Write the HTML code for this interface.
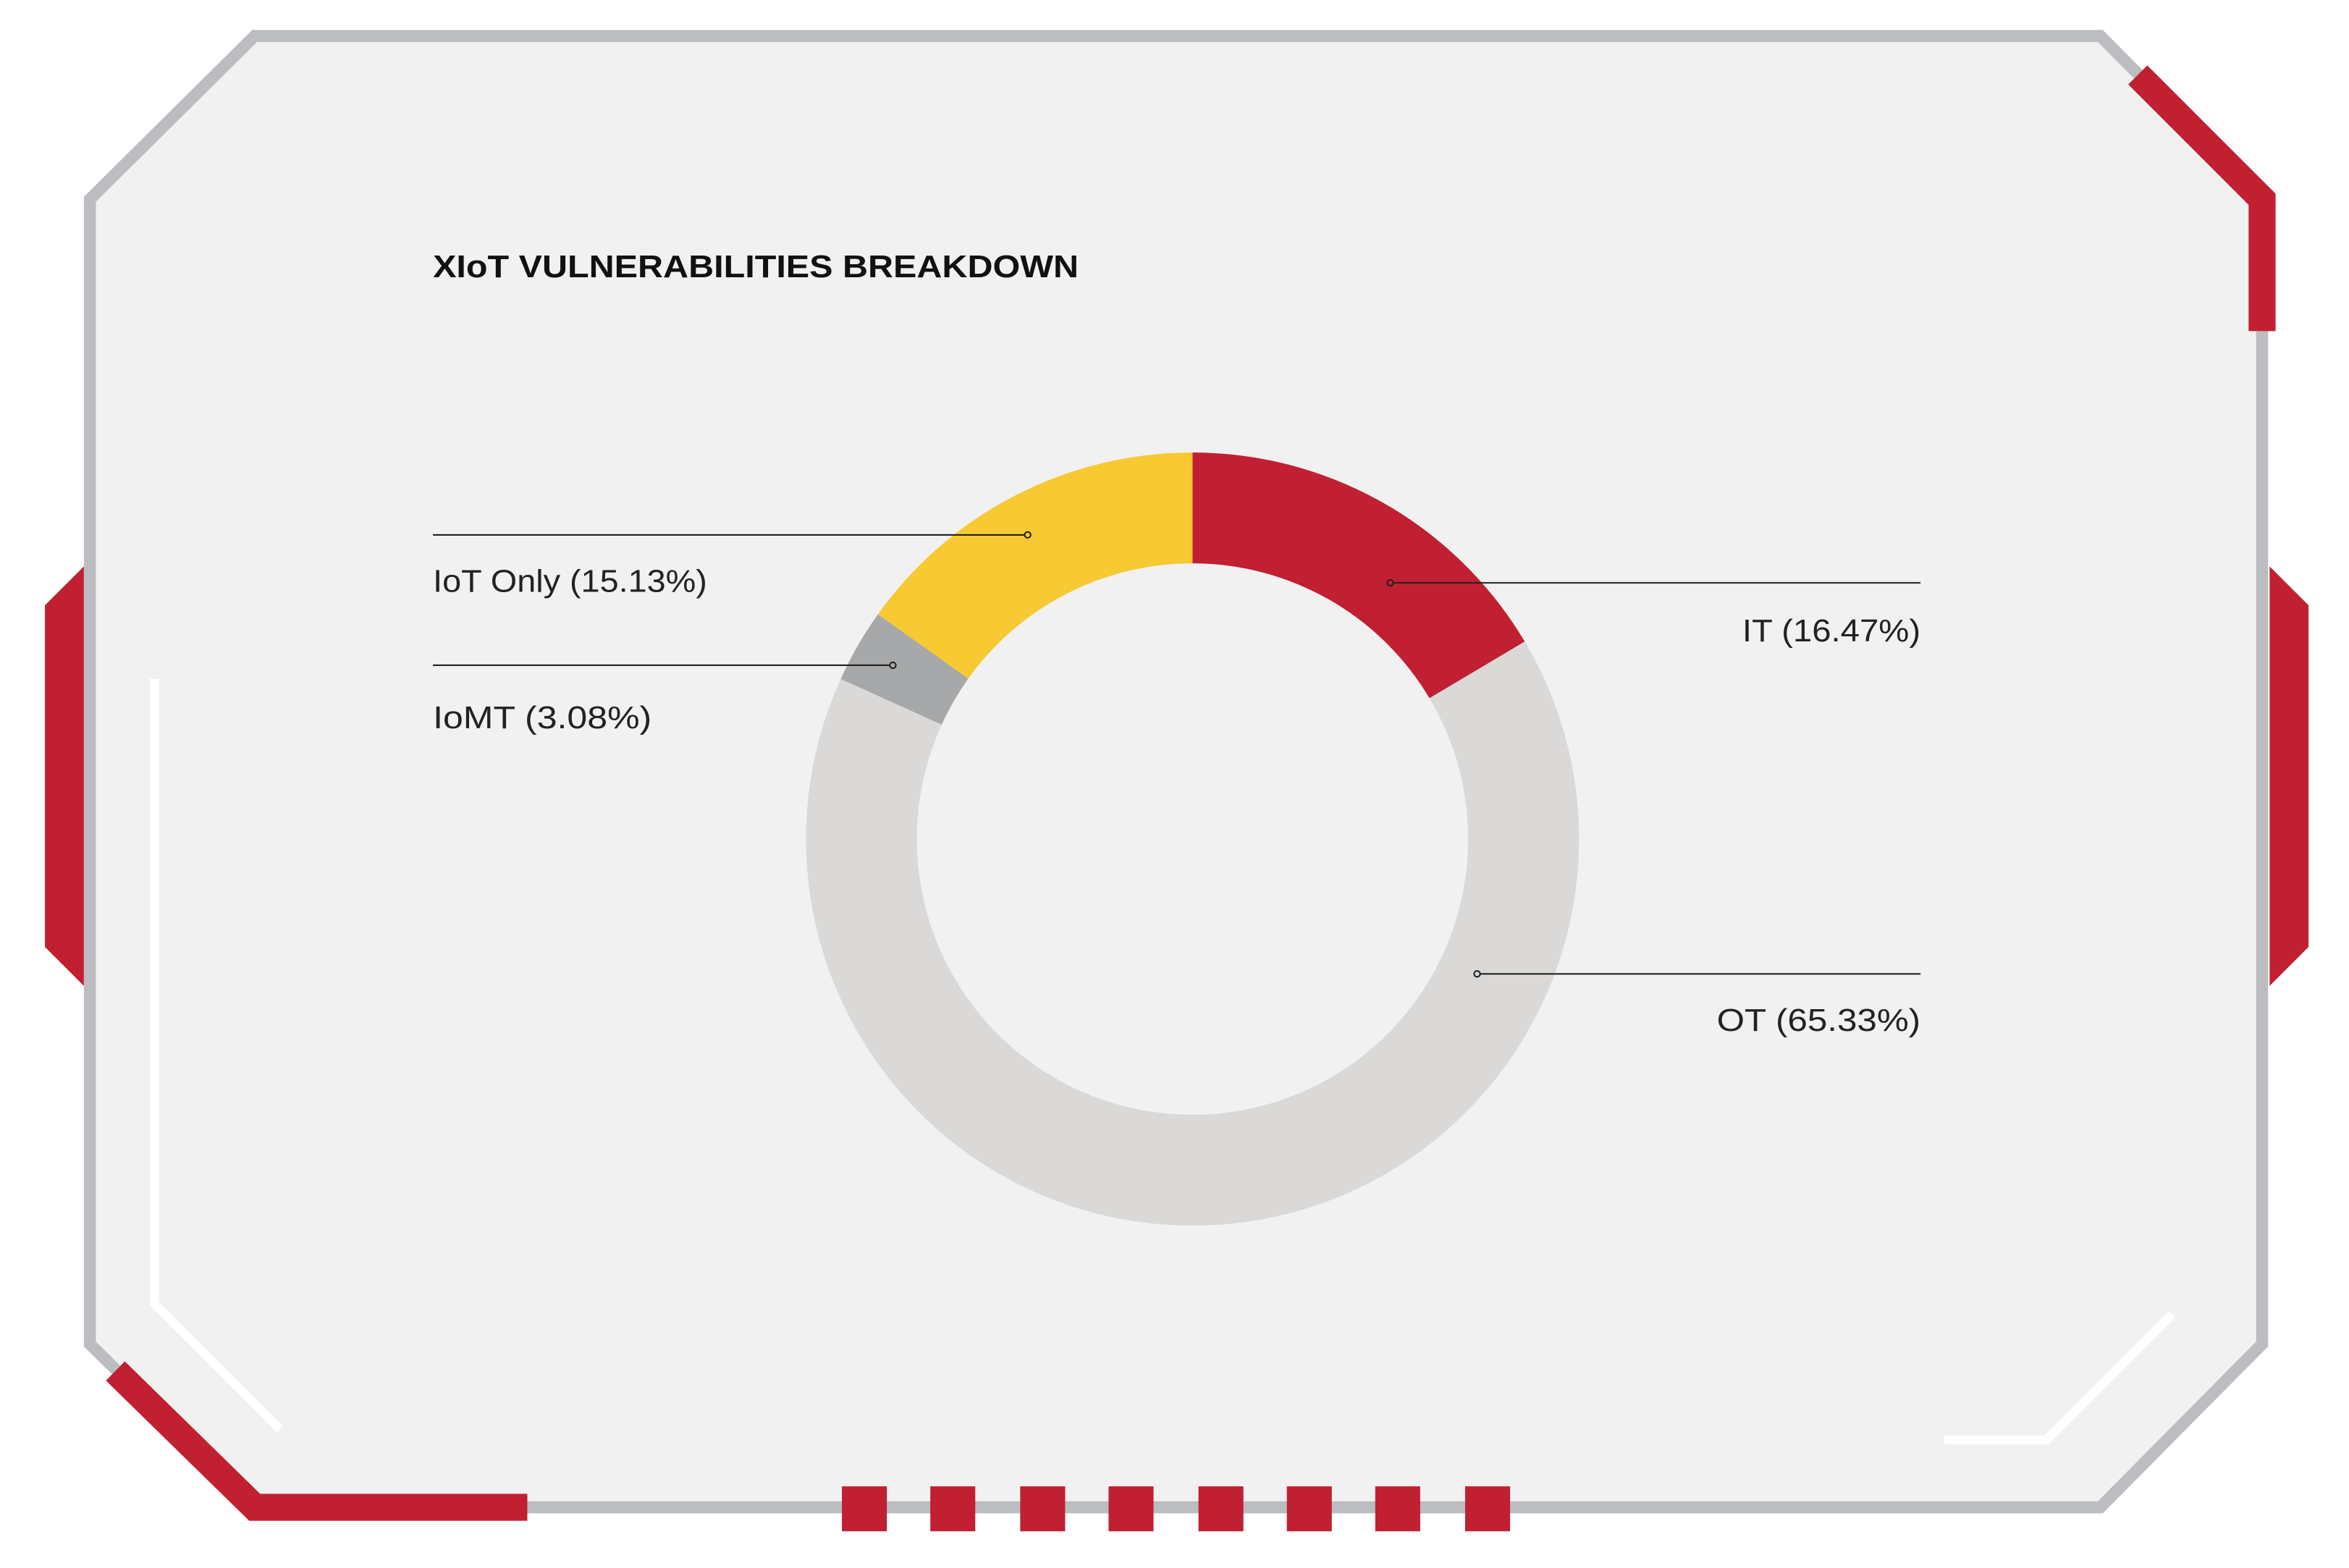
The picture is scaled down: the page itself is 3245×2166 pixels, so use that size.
<!DOCTYPE html>
<html><head><meta charset="utf-8"><style>
html,body{margin:0;padding:0;background:#fff;}
svg{display:block;}
text{font-family:"Liberation Sans",sans-serif;}
</style></head><body>
<svg width="3245" height="2166" viewBox="0 0 1568 1046.5" preserveAspectRatio="none" xmlns="http://www.w3.org/2000/svg">
<rect width="1568" height="1046.5" fill="#fff"/>
<polygon points="56,378 30,404 30,632 56,658" fill="#c11f32"/>
<polygon points="1515,378 1541,404 1541,632 1515,658" fill="#c11f32"/>
<polygon points="170,24 1402,24 1510,133 1510,897 1402,1006 170,1006 60,897 60,133" fill="#f1f1f1" stroke="#bcbdc0" stroke-width="8"/>
<polyline points="1427,50 1510,133 1510,221" fill="none" stroke="#c11f32" stroke-width="18"/>
<polyline points="77,915 170,1006 352,1006" fill="none" stroke="#c11f32" stroke-width="18"/>
<g fill="#c11f32">
<rect x="562" y="992" width="30" height="30"/><rect x="621" y="992" width="30" height="30"/>
<rect x="681" y="992" width="30" height="30"/><rect x="740" y="992" width="30" height="30"/>
<rect x="800" y="992" width="30" height="30"/><rect x="859" y="992" width="30" height="30"/>
<rect x="918" y="992" width="30" height="30"/><rect x="978" y="992" width="30" height="30"/>
</g>
<polyline points="103,453 103,870 187,954" fill="none" stroke="#fff" stroke-width="6"/>
<polyline points="1298,961 1366,961 1450,877" fill="none" stroke="#fff" stroke-width="6"/>
<text x="289" y="185" font-size="21" font-weight="bold" fill="#111" textLength="431" lengthAdjust="spacingAndGlyphs">XIoT VULNERABILITIES BREAKDOWN</text>
<g fill="none" stroke-width="74">
<path d="M796,339 A221,221 0 0 1 986,447.1" stroke="#c11f32"/>
<path d="M986,447.1 A221,221 0 1 1 594.9,468.4" stroke="#dad9d7"/>
<path d="M594.9,468.4 A221,221 0 0 1 616.2,431.4" stroke="#a7a8aa"/>
<path d="M616.2,431.4 A221,221 0 0 1 796,339" stroke="#f7c932"/>
</g>
<g stroke="#222" stroke-width="1" fill="none">
<line x1="289" y1="357" x2="684" y2="357"/><circle cx="686" cy="357" r="2"/>
<line x1="289" y1="444" x2="594" y2="444"/><circle cx="596" cy="444" r="2"/>
<line x1="930" y1="389" x2="1282" y2="389"/><circle cx="928" cy="389" r="2"/>
<line x1="988" y1="650" x2="1282" y2="650"/><circle cx="986" cy="650" r="2"/>
</g>
<g font-size="21" fill="#222">
<text x="289" y="395" textLength="183" lengthAdjust="spacingAndGlyphs">IoT Only (15.13%)</text>
<text x="289" y="486" textLength="146" lengthAdjust="spacingAndGlyphs">IoMT (3.08%)</text>
<text x="1282" y="428" text-anchor="end" textLength="119" lengthAdjust="spacingAndGlyphs">IT (16.47%)</text>
<text x="1282" y="688" text-anchor="end" textLength="136" lengthAdjust="spacingAndGlyphs">OT (65.33%)</text>
</g>
</svg>
</body></html>
